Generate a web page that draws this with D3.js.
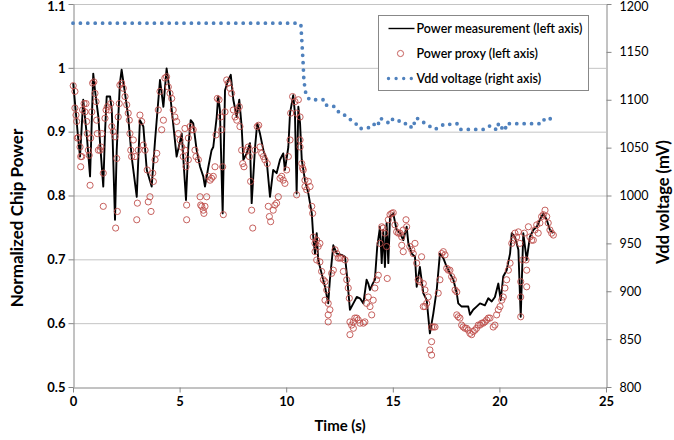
<!DOCTYPE html>
<html>
<head>
<meta charset="utf-8">
<script src="https://cdn.jsdelivr.net/npm/d3@7"></script>
<style>
  body { margin: 0; background: #fff; }
  svg { font-family: Lato, "Open Sans", sans-serif; }
</style>
</head>
<body>
<svg id="chart" width="674" height="440"></svg>
<script>
// measured chip power (left axis), [time s, normalized power]
let measured = [
  [0.01,0.976],[0.25,0.887],[0.33,0.861],[0.48,0.950],[0.56,0.923],[0.64,0.897],[0.80,0.830],
  [0.95,0.991],[1.03,0.965],[1.19,0.923],[1.27,0.882],[1.42,0.814],[1.50,0.897],[1.58,0.955],
  [1.74,0.955],[1.82,0.934],[1.97,0.762],[2.05,0.871],[2.20,0.976],[2.28,0.997],[2.44,0.960],
  [2.59,0.923],[2.75,0.861],[2.99,0.798],[3.14,0.918],[3.30,0.908],[3.46,0.840],[3.69,0.814],
  [3.85,0.887],[4.08,0.981],[4.24,0.939],[4.39,0.999],[4.55,0.960],[4.86,0.861],[5.10,0.897],
  [5.30,0.793],[5.41,0.876],[5.52,0.918],[5.64,0.913],[5.80,0.871],[5.96,0.845],[6.11,0.830],
  [6.19,0.814],[6.35,0.845],[6.50,0.871],[6.58,0.876],[6.74,0.923],[6.81,0.955],[6.89,0.934],
  [7.02,0.772],[7.13,0.965],[7.28,0.981],[7.40,0.989],[7.52,0.950],[7.68,0.923],[7.80,0.950],
  [7.91,0.908],[7.99,0.856],[8.15,0.866],[8.30,0.882],[8.38,0.788],[8.54,0.876],[8.64,0.913],
  [8.77,0.897],[8.93,0.871],[9.08,0.856],[9.24,0.798],[9.39,0.840],[9.55,0.835],[9.71,0.856],
  [9.86,0.866],[9.94,0.840],[10.10,0.876],[10.18,0.929],[10.33,0.957],[10.41,0.929],[10.49,0.803],
  [10.57,0.939],[10.65,0.913],[10.73,0.856],[10.88,0.824],[11.04,0.803],[11.20,0.772],[11.27,0.735],
  [11.35,0.709],[11.43,0.741],[11.50,0.699],[11.66,0.678],[11.82,0.657],[11.97,0.631],[12.05,0.668],
  [12.21,0.722],[12.37,0.709],[12.60,0.707],[12.76,0.704],[12.84,0.678],[12.99,0.621],[13.15,0.631],
  [13.31,0.641],[13.46,0.639],[13.62,0.631],[13.77,0.668],[13.85,0.662],[13.93,0.652],[14.06,0.662],
  [14.16,0.668],[14.27,0.720],[14.40,0.751],[14.48,0.694],[14.55,0.746],[14.63,0.688],[14.71,0.757],
  [14.79,0.694],[14.87,0.767],[15.02,0.772],[15.18,0.746],[15.34,0.741],[15.49,0.730],[15.65,0.751],
  [15.73,0.725],[15.89,0.709],[16.04,0.704],[16.12,0.657],[16.27,0.688],[16.43,0.647],[16.59,0.636],
  [16.74,0.584],[16.90,0.615],[17.06,0.652],[17.21,0.709],[17.37,0.702],[17.53,0.688],[17.68,0.678],
  [17.84,0.668],[18.00,0.647],[18.07,0.631],[18.23,0.626],[18.54,0.626],[18.62,0.613],[18.77,0.621],
  [18.93,0.626],[19.09,0.631],[19.32,0.628],[19.48,0.639],[19.64,0.634],[19.79,0.641],[19.95,0.662],
  [20.06,0.636],[20.18,0.673],[20.34,0.683],[20.50,0.709],[20.58,0.741],[20.73,0.735],[20.89,0.715],
  [21.00,0.610],[21.12,0.741],[21.28,0.699],[21.43,0.735],[21.59,0.746],[21.75,0.751],[21.90,0.762],
  [22.06,0.772],[22.22,0.762],[22.37,0.746],[22.53,0.741]
];

// power proxy (left axis), [time s, normalized power]
let proxy = [
  [0.01,0.972],[0.09,0.963],[0.09,0.937],[0.14,0.926],[0.17,0.916],[0.20,0.890],[0.25,0.891],
  [0.33,0.876],[0.36,0.861],[0.41,0.861],[0.36,0.845],[0.45,0.934],[0.52,0.944],[0.56,0.931],
  [0.61,0.944],[0.64,0.916],[0.67,0.897],[0.72,0.871],[0.76,0.863],[0.80,0.816],[0.83,0.890],
  [0.88,0.931],[0.92,0.976],[0.98,0.978],[1.03,0.960],[1.08,0.947],[1.11,0.918],[1.14,0.897],
  [1.19,0.871],[1.27,0.871],[1.31,0.876],[1.35,0.897],[1.42,0.835],[1.42,0.783],[1.50,0.921],
  [1.55,0.934],[1.61,0.939],[1.70,0.934],[1.77,0.944],[1.82,0.908],[1.89,0.900],[1.97,0.892],
  [2.05,0.858],[2.08,0.775],[2.00,0.749],[2.12,0.923],[2.17,0.944],[2.20,0.973],[2.28,0.976],
  [2.36,0.968],[2.44,0.955],[2.52,0.942],[2.59,0.929],[2.64,0.918],[2.67,0.897],[2.71,0.871],
  [2.75,0.861],[2.83,0.887],[2.91,0.861],[2.99,0.762],[3.02,0.788],[3.06,0.871],[3.14,0.926],
  [3.22,0.916],[3.30,0.879],[3.38,0.871],[3.48,0.840],[3.53,0.790],[3.61,0.798],[3.66,0.775],
  [3.74,0.835],[3.77,0.822],[3.85,0.856],[3.93,0.866],[4.00,0.934],[4.08,0.963],[4.16,0.903],
  [4.24,0.918],[4.31,0.984],[4.39,0.986],[4.47,0.970],[4.55,0.960],[4.63,0.952],[4.70,0.934],
  [4.78,0.923],[4.86,0.916],[4.94,0.897],[5.02,0.887],[5.10,0.876],[5.17,0.861],[5.25,0.905],
  [5.33,0.785],[5.33,0.762],[5.41,0.890],[5.25,0.871],[5.30,0.845],[5.41,0.856],[5.49,0.908],
  [5.57,0.903],[5.64,0.903],[5.72,0.871],[5.77,0.861],[5.88,0.856],[5.96,0.798],[5.99,0.785],
  [6.04,0.783],[6.11,0.777],[6.14,0.772],[6.19,0.783],[6.27,0.798],[6.35,0.830],[6.43,0.824],
  [6.50,0.827],[6.58,0.830],[6.66,0.845],[6.71,0.895],[6.77,0.952],[6.85,0.950],[6.93,0.923],
  [6.97,0.903],[7.02,0.845],[7.05,0.770],[7.13,0.931],[7.21,0.981],[7.28,0.976],[7.36,0.968],
  [7.44,0.960],[7.52,0.934],[7.60,0.923],[7.68,0.918],[7.71,0.934],[7.80,0.939],[7.83,0.908],
  [7.91,0.871],[7.96,0.850],[8.02,0.845],[8.15,0.871],[8.22,0.876],[8.27,0.861],[8.33,0.822],
  [8.38,0.777],[8.43,0.749],[8.54,0.871],[8.64,0.908],[8.71,0.910],[8.77,0.876],[8.85,0.866],
  [8.93,0.861],[9.00,0.856],[9.11,0.850],[9.16,0.783],[9.21,0.767],[9.27,0.759],[9.39,0.777],
  [9.47,0.785],[9.55,0.788],[9.63,0.798],[9.71,0.827],[9.79,0.830],[9.86,0.824],[9.94,0.819],
  [10.02,0.840],[10.10,0.861],[10.18,0.887],[10.21,0.929],[10.30,0.955],[10.41,0.947],[10.49,0.929],
  [10.49,0.801],[10.57,0.950],[10.65,0.923],[10.73,0.850],[10.80,0.840],[10.88,0.824],[10.96,0.809],
  [10.65,0.887],[10.65,0.876],[10.77,0.843],[10.88,0.814],[11.04,0.822],[11.12,0.814],[11.20,0.783],
  [11.24,0.772],[11.27,0.735],[11.35,0.725],[11.43,0.730],[11.50,0.720],[11.58,0.725],[11.35,0.712],
  [11.43,0.699],[11.58,0.696],[11.66,0.681],[11.74,0.668],[11.82,0.665],[11.90,0.652],[11.82,0.636],
  [11.97,0.631],[12.05,0.621],[11.97,0.613],[11.97,0.602],[12.13,0.678],[12.21,0.683],[12.29,0.715],
  [12.37,0.709],[12.44,0.702],[12.52,0.702],[12.60,0.702],[12.68,0.681],[12.76,0.699],[12.84,0.668],
  [12.91,0.655],[12.96,0.639],[12.99,0.602],[13.07,0.597],[13.15,0.602],[13.22,0.608],[13.31,0.608],
  [13.38,0.605],[13.46,0.600],[13.62,0.600],[13.69,0.602],[12.99,0.582],[13.15,0.592],[13.77,0.631],
  [13.85,0.641],[13.93,0.626],[14.01,0.613],[14.08,0.636],[14.16,0.655],[14.24,0.668],[14.32,0.675],
  [14.40,0.725],[14.48,0.751],[14.55,0.749],[14.63,0.741],[14.71,0.720],[14.74,0.670],[14.79,0.762],
  [14.87,0.770],[14.95,0.772],[15.02,0.773],[15.10,0.754],[15.18,0.743],[15.26,0.741],[15.34,0.741],
  [15.42,0.735],[15.49,0.746],[15.62,0.762],[15.65,0.751],[15.42,0.722],[15.49,0.712],[15.80,0.720],
  [15.89,0.715],[15.96,0.709],[16.04,0.725],[16.12,0.694],[16.19,0.668],[16.27,0.665],[16.35,0.704],
  [16.43,0.662],[16.51,0.652],[16.43,0.626],[16.51,0.626],[16.59,0.631],[16.66,0.641],[16.82,0.594],
  [16.90,0.594],[16.82,0.571],[16.74,0.558],[16.82,0.550],[16.98,0.594],[17.13,0.647],[17.21,0.668],
  [17.29,0.709],[17.37,0.712],[17.45,0.707],[17.53,0.686],[17.60,0.683],[17.68,0.683],[17.76,0.673],
  [17.84,0.668],[17.92,0.652],[18.00,0.649],[18.00,0.613],[18.07,0.610],[18.15,0.608],[18.23,0.597],
  [18.30,0.594],[18.38,0.592],[18.46,0.592],[18.54,0.589],[18.62,0.584],[18.70,0.582],[18.77,0.587],
  [18.85,0.589],[18.93,0.592],[19.01,0.597],[19.09,0.597],[19.17,0.600],[19.24,0.600],[19.32,0.602],
  [19.40,0.605],[19.48,0.608],[19.56,0.608],[19.71,0.594],[19.79,0.597],[19.87,0.613],[19.95,0.621],
  [20.03,0.626],[20.11,0.636],[20.18,0.641],[20.26,0.655],[20.34,0.668],[20.42,0.683],[20.50,0.694],
  [20.58,0.725],[20.65,0.730],[20.73,0.741],[20.81,0.735],[20.89,0.743],[20.96,0.725],[21.00,0.665],
  [21.00,0.641],[21.00,0.610],[21.09,0.699],[21.17,0.741],[21.25,0.699],[21.28,0.683],[21.28,0.657],
  [21.36,0.751],[21.43,0.735],[21.51,0.730],[21.59,0.730],[21.67,0.746],[21.75,0.754],[21.82,0.741],
  [21.90,0.757],[21.98,0.767],[22.06,0.770],[22.14,0.777],[22.22,0.767],[22.29,0.757],[22.37,0.746],
  [22.45,0.741],[22.53,0.738]
];

// Vdd voltage (right axis), [time s, mV]
let vdd = [
  [0,1180],[10.6,1180],[10.69,1178],[10.79,1140],[10.83,1120],[10.93,1105],[11.1,1100],[11.8,1100],
  [11.9,1094],[12.24,1093],[12.38,1088],[12.66,1086],[12.85,1081],[13.04,1079],[13.27,1075],
  [13.41,1070],[13.7,1070],[13.88,1071],[14.07,1075],[14.29,1072],[14.4,1081],[14.63,1078],
  [14.87,1075],[15.0,1080],[15.24,1079],[15.43,1075],[15.76,1075],[15.9,1070],[16.0,1075],
  [16.09,1081],[16.32,1079],[16.51,1075],[16.75,1072],[16.98,1069],[17.21,1072],[17.45,1075],
  [17.78,1074],[18.01,1075],[18.15,1069],[19.28,1069],[19.47,1072],[19.61,1073],[19.84,1069],
  [19.93,1075],[20.07,1069],[20.22,1074],[20.31,1070],[20.4,1075],[22.0,1075],[22.14,1081],[22.42,1080]
];

let xTicks = [0, 5, 10, 15, 20, 25];
let leftTicks = [0.5, 0.6, 0.7, 0.8, 0.9, 1, 1.1];
let rightTicks = [800, 850, 900, 950, 1000, 1050, 1100, 1150, 1200];
let legendLabels = ["Power measurement (left axis)", "Power proxy (left axis)", "Vdd voltage (right axis)"];

let svg = d3.select("#chart");
let x = d3.scaleLinear().domain([0, 25]).range([73, 606]);
let yL = d3.scaleLinear().domain([0.5, 1.1]).range([387, 4]);
let yR = d3.scaleLinear().domain([800, 1200]).range([387, 4]);

let axisColor = "#868686";
let red = "#C0504D", blue = "#4F81BD";

// gridlines
svg.append("g").selectAll("line").data(leftTicks.slice(1)).join("line")
  .attr("x1", x(0)).attr("x2", x(25))
  .attr("y1", d => yL(d) + 0.5).attr("y2", d => yL(d) + 0.5)
  .attr("stroke", "#c4c4c4").attr("stroke-width", 1);

function styleAxis(g, bold, size) {
  g.select(".domain").attr("stroke", axisColor);
  g.selectAll(".tick line").attr("stroke", axisColor);
  g.selectAll(".tick text").attr("fill", "#000")
    .style("font-size", size + "px").style("font-weight", bold ? "700" : "400")
    .style("font-family", "Lato, sans-serif");
}

let gx = svg.append("g").attr("transform", "translate(0,387.5)")
  .call(d3.axisBottom(x).tickValues(xTicks).tickSize(5).tickSizeOuter(0).tickPadding(4).tickFormat(d => String(d)));
styleAxis(gx, true, 13);

let gl = svg.append("g").attr("transform", "translate(73.5,0)")
  .call(d3.axisLeft(yL).tickValues(leftTicks).tickSize(5).tickSizeOuter(0).tickPadding(3).tickFormat(d => String(d)));
styleAxis(gl, true, 13);
gl.selectAll(".tick text").filter(d => d === 1.1).attr("dy", "0.5em");

let gr = svg.append("g").attr("transform", "translate(606.5,0)")
  .call(d3.axisRight(yR).tickValues(rightTicks).tickSize(5).tickSizeOuter(0).tickPadding(8).tickFormat(d => String(d)));
styleAxis(gr, false, 12.5);
gr.selectAll(".tick text").filter(d => d === 1200).attr("dy", "0.5em");

// series
let lineL = d3.line().x(d => x(d[0])).y(d => yL(d[1]));
let lineR = d3.line().x(d => x(d[0])).y(d => yR(d[1]));

svg.append("path").datum(measured).attr("d", lineL)
  .attr("fill", "none").attr("stroke", "#000").attr("stroke-width", 1.9).attr("stroke-linejoin", "round");

svg.append("g").selectAll("circle").data(proxy).join("circle")
  .attr("cx", d => x(d[0])).attr("cy", d => yL(d[1])).attr("r", 3.1)
  .attr("fill", "none").attr("stroke", red).attr("stroke-width", 0.9);

svg.append("path").datum(vdd).attr("d", lineR)
  .attr("fill", "none").attr("stroke", blue).attr("stroke-width", 3.8)
  .attr("stroke-linecap", "round").attr("stroke-dasharray", "0,7.4");

// axis titles
svg.append("text").attr("transform", "translate(23,218) rotate(-90)")
  .attr("text-anchor", "middle").style("font-size", "17px").style("font-weight", "700")
  .text("Normalized Chip Power");
svg.append("text").attr("transform", "translate(669,202) rotate(-90)")
  .attr("text-anchor", "middle").style("font-size", "16.5px").style("font-weight", "700")
  .text("Vdd voltage (mV)");
svg.append("text").attr("x", 340).attr("y", 431)
  .attr("text-anchor", "middle").style("font-size", "15px").style("font-weight", "700")
  .text("Time (s)");

// legend
let lg = svg.append("g").attr("transform", "translate(378.5,15.5)");
lg.append("rect").attr("width", 210).attr("height", 75)
  .attr("fill", "#fff").attr("stroke", "#888");
let rows = [13, 38, 63];
lg.append("line").attr("x1", 10).attr("x2", 36).attr("y1", rows[0]).attr("y2", rows[0])
  .attr("stroke", "#000").attr("stroke-width", 1.4);
lg.append("circle").attr("cx", 22).attr("cy", rows[1]).attr("r", 3.1)
  .attr("fill", "none").attr("stroke", red).attr("stroke-width", 0.9);
lg.append("line").attr("x1", 10).attr("x2", 35).attr("y1", rows[2]).attr("y2", rows[2])
  .attr("stroke", blue).attr("stroke-width", 3.4).attr("stroke-linecap", "round").attr("stroke-dasharray", "0,7.6");
lg.selectAll("text.lbl").data(legendLabels).join("text").attr("class", "lbl")
  .attr("x", 38).attr("y", (d, i) => rows[i] + 4.5)
  .style("font-size", "12.5px").style("font-weight", "600")
  .text(d => d);
</script>
</body>
</html>
